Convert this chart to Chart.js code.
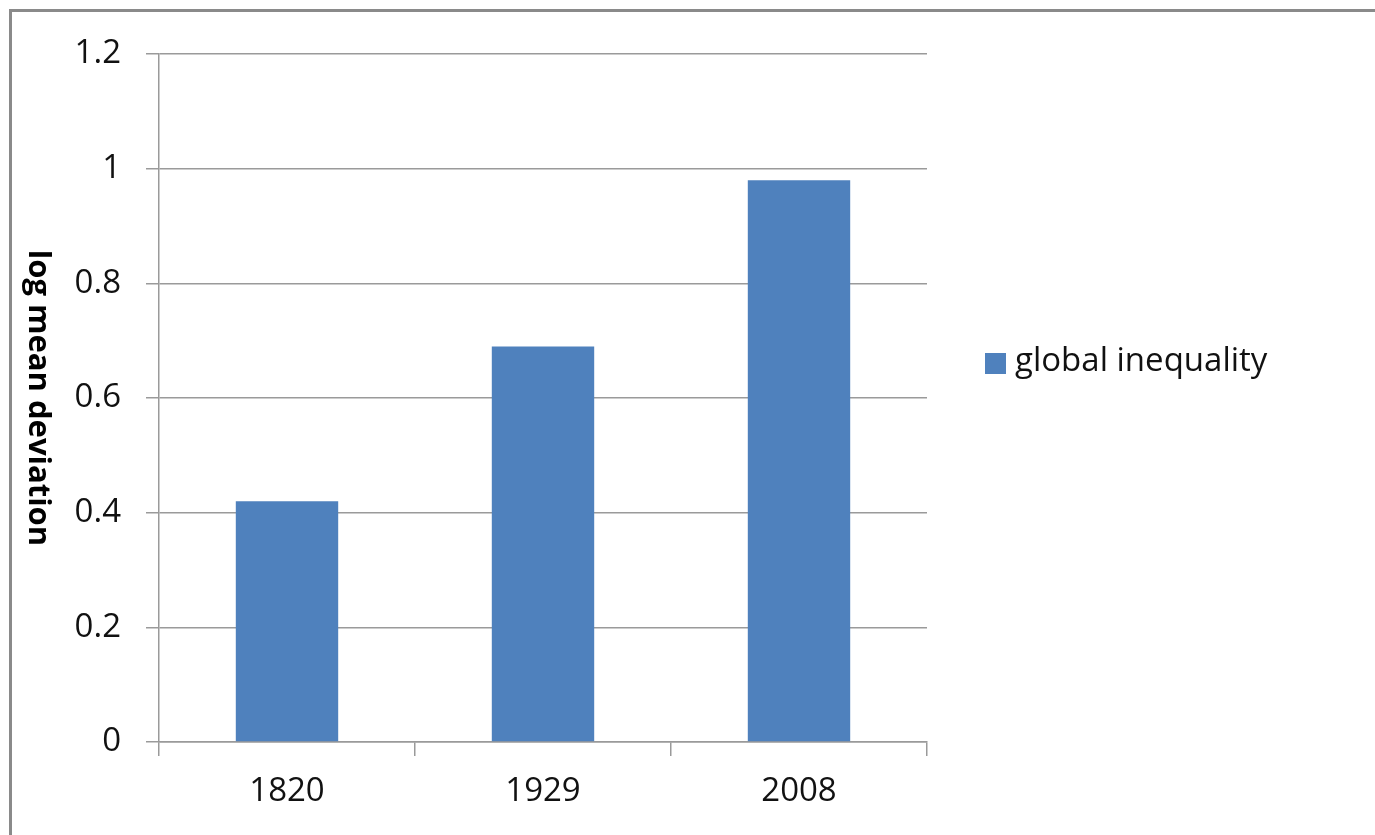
<!DOCTYPE html>
<html>
<head>
<meta charset="utf-8">
<script src="https://cdn.jsdelivr.net/npm/chart.js@4"></script>
<style>
    body { margin: 0; background: #fff; overflow: hidden; }
    #wrap { position: relative; width: 1375px; height: 835px; }
    #frame { position: absolute; left: 9px; top: 9px; width: 1400px; height: 900px;
             border: 3px solid #8a8a8a; box-sizing: border-box; }
    #chart { position: absolute; left: 0; top: 0; }
</style>
</head>
<body>
<div id="wrap">
    <div id="frame"></div>
    <canvas id="chart" width="1375" height="835"></canvas>
</div>
<script>
// data
const years = ['1820', '1929', '2008'];
const inequality = [0.42, 0.69, 0.98];
const seriesName = 'global inequality';
const yTitle = 'log mean deviation';
const yTicks = [0, 0.2, 0.4, 0.6, 0.8, 1, 1.2];

const FONT = '"Open Sans", "Liberation Sans", sans-serif';
const BLUE = '#4f81bd';
const GRID = '#9a9a9a';

// rotated axis title (reads top to bottom) and side legend
const extras = {
    id: 'extras',
    afterDraw(chart) {
        let ctx = chart.ctx;
        let area = chart.chartArea;
        ctx.save();
        ctx.fillStyle = '#000';
        ctx.font = 'bold 31px ' + FONT;
        ctx.textAlign = 'center';
        ctx.textBaseline = 'middle';
        ctx.translate(38, (area.top + area.bottom) / 2);
        ctx.rotate(Math.PI / 2);
        ctx.fillText(yTitle, 0, 0);
        ctx.restore();

        let ds = chart.data.datasets[0];
        ctx.save();
        ctx.fillStyle = ds.backgroundColor;
        ctx.fillRect(985, 353, 21, 21);
        ctx.fillStyle = '#111';
        ctx.font = '33px ' + FONT;
        ctx.textAlign = 'left';
        ctx.textBaseline = 'middle';
        ctx.fillText(ds.label, 1015, 362);
        ctx.restore();
    }
};

new Chart(document.getElementById('chart'), {
    type: 'bar',
    data: {
        labels: years,
        datasets: [{
            label: seriesName,
            data: inequality,
            backgroundColor: BLUE,
            borderWidth: 0,
            barPercentage: 0.4,
            categoryPercentage: 1
        }]
    },
    options: {
        responsive: false,
        devicePixelRatio: 1,
        animation: false,
        layout: { padding: { top: 54, left: 0, right: 448, bottom: 0 } },
        plugins: {
            legend: { display: false },
            tooltip: { enabled: false }
        },
        scales: {
            x: {
                grid: { drawOnChartArea: false, drawTicks: true, tickLength: 14, color: GRID, lineWidth: 1.5 },
                border: { display: true, color: GRID, width: 1.5 },
                ticks: { color: '#111', font: { family: FONT, size: 33 }, padding: 16 },
                afterFit(scale) {
                    scale.height = 93;
                    scale.paddingLeft = 0;
                    scale.paddingRight = 0;
                }
            },
            y: {
                min: 0,
                max: 1.2,
                afterBuildTicks(scale) {
                    scale.ticks = yTicks.map(v => ({ value: v }));
                },
                grid: { color: GRID, lineWidth: 1.5, drawTicks: true, tickLength: 13 },
                border: { display: true, color: GRID, width: 1.5 },
                ticks: { color: '#111', font: { family: FONT, size: 33 }, padding: 25,
                         callback: v => String(v) },
                afterFit(scale) {
                    scale.width = 159;
                    scale.paddingTop = 0;
                    scale.paddingBottom = 0;
                }
            }
        }
    },
    plugins: [extras]
});
</script>
</body>
</html>
